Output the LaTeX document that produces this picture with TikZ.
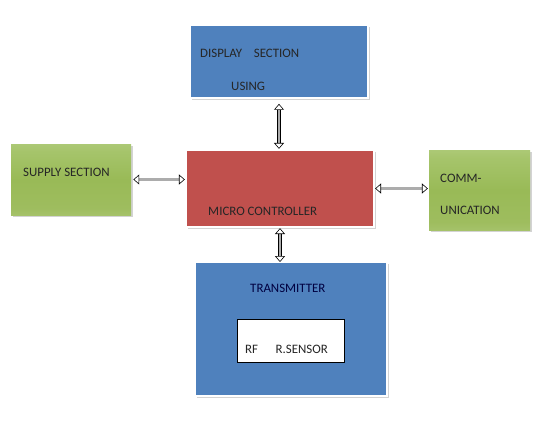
\documentclass[tikz,border=0pt]{standalone}
\usepackage{fontspec}
\setmainfont{Carlito}
\usetikzlibrary{arrows.meta, shadows, calc}
\definecolor{secblue}{RGB}{79, 129, 189}
\definecolor{secred}{RGB}{192, 80, 77}
\pgfdeclareverticalshading{greenshade}{100bp}{
  rgb(0bp)=(0.78,0.86,0.63); rgb(30bp)=(0.62,0.74,0.37); rgb(50bp)=(0.60,0.73,0.34);
  rgb(70bp)=(0.65,0.77,0.42); rgb(100bp)=(0.80,0.87,0.66)}

\begin{document}
\begin{tikzpicture}[
  x=0.03cm, y=-0.03cm,
  box/.style={draw=white, line width=1.2pt, inner sep=0pt, outer sep=0pt,
    drop shadow={opacity=0.35, shadow xshift=1.5pt, shadow yshift=-1.5pt}},
  bluebox/.style={box, fill=secblue},
  redbox/.style={box, fill=secred},
  greenbox/.style={box, draw=none, shading=greenshade},
  lbl/.style={anchor=west, inner sep=0pt, font=\fontsize{11}{13}\selectfont, text=black!85},
  dblarrow/.style={double=gray!65, double distance=2pt, line width=0.5pt,
    {Triangle[open, fill=white, length=5pt, width=8.5pt]}-{Triangle[open, fill=white, length=5pt, width=8.5pt]}}
]
  \useasboundingbox (0,0) rectangle (558,422);

  % blocks
  \node[bluebox, minimum width=178*0.03cm, minimum height=73*0.03cm] (disp) at (279,61.5) {};
  \node[greenbox, minimum width=120*0.03cm, minimum height=71*0.03cm] (supply) at (71,179.5) {};
  \node[redbox, minimum width=188*0.03cm, minimum height=77*0.03cm] (mc) at (280,188.5) {};
  \node[greenbox, minimum width=101*0.03cm, minimum height=80*0.03cm] (comm) at (479.5,190) {};
  \node[bluebox, minimum width=192*0.03cm, minimum height=134*0.03cm] (tx) at (291,329) {};
  \node[draw=black, line width=0.5pt, fill=white, minimum width=107*0.03cm, minimum height=43*0.03cm,
    inner sep=0pt] (rf) at (290.5,340.5) {};

  % texts
  \node[lbl] (dispA) at (200,53) {DISPLAY\ \ \ \ SECTION};
  \node[lbl] (dispB) at (231,86) {USING};
  \node[lbl] (supplyT) at (23,172) {SUPPLY SECTION};
  \node[lbl] (mcT) at (208,211) {MICRO CONTROLLER};
  \node[lbl] (commA) at (440,178) {COMM-};
  \node[lbl] (commB) at (440,210) {UNICATION};
  \node[lbl, text=blue!25!black] (txT) at (250,288) {TRANSMITTER};
  \node[lbl] (rfT) at (245,349) {RF\ \ \ \ \ \ R.SENSOR};

  % connectors
  \draw[dblarrow, shorten <=5pt, shorten >=1pt] (disp.south) -- (disp.south |- mc.north);
  \draw[dblarrow, shorten <=2pt, shorten >=1pt] (supply.east) -- (supply.east -| mc.west);
  \draw[dblarrow, shorten <=1pt, shorten >=1pt] (mc.east) -- (mc.east -| comm.west);
  \draw[dblarrow, shorten <=1pt, shorten >=0pt] (mc.south) -- (mc.south |- tx.north);
\end{tikzpicture}
\end{document}
